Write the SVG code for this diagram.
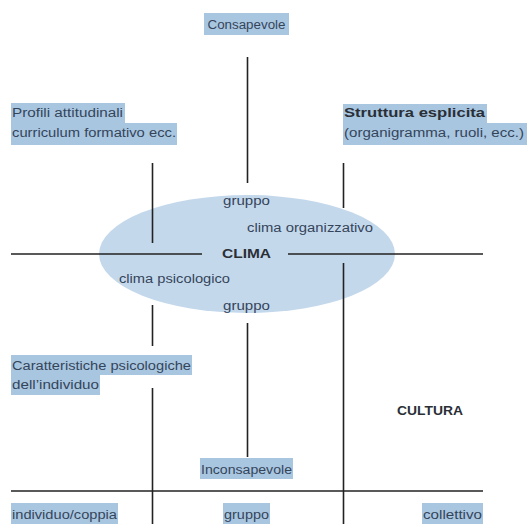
<svg xmlns="http://www.w3.org/2000/svg" width="527" height="524" viewBox="0 0 527 524">
<style>
.t{font-family:"Liberation Sans","DejaVu Sans",sans-serif;font-size:12.5px;fill:#34455a}
.b{font-weight:bold;fill:#2a2f36}
.hl{fill:#a9c6e1}
.ln{stroke:#222;stroke-width:1.6;fill:none}
</style>
<rect width="527" height="524" fill="#fff"/>
<g id="ellipse-clima">
<ellipse cx="247" cy="254" rx="148" ry="59" fill="#c4d8ec"/>
</g>
<g id="connectors">
<line class="ln" x1="247.5" y1="57" x2="247.5" y2="183"/>
<line class="ln" x1="247.5" y1="323" x2="247.5" y2="457"/>
<line class="ln" x1="152.5" y1="163" x2="152.5" y2="243"/>
<line class="ln" x1="152.5" y1="305" x2="152.5" y2="346"/>
<line class="ln" x1="152.5" y1="388" x2="152.5" y2="524"/>
<line class="ln" x1="343.5" y1="163" x2="343.5" y2="208"/>
<line class="ln" x1="343.5" y1="263" x2="343.5" y2="524"/>
<line class="ln" x1="11" y1="254" x2="202" y2="254"/>
<line class="ln" x1="288" y1="254" x2="483" y2="254"/>
<line class="ln" x1="11" y1="491" x2="483" y2="491" stroke-width="2"/>
</g>
<g id="consapevole">
<rect class="hl" x="204" y="13" width="85" height="22"/>
<text class="t" x="246.5" y="29" text-anchor="middle" textLength="78" lengthAdjust="spacingAndGlyphs">Consapevole</text>
</g>
<g id="profili">
<rect class="hl" x="11" y="103" width="114" height="20"/>
<rect class="hl" x="11" y="123" width="166" height="22"/>
<text class="t" x="12" y="117" textLength="111" lengthAdjust="spacingAndGlyphs">Profili attitudinali</text>
<text class="t" x="12" y="137" textLength="164" lengthAdjust="spacingAndGlyphs">curriculum formativo ecc.</text>
</g>
<g id="struttura">
<rect class="hl" x="343" y="104" width="144" height="19"/>
<rect class="hl" x="343" y="123" width="184" height="22"/>
<text class="t b" x="344" y="117" textLength="141" lengthAdjust="spacingAndGlyphs">Struttura esplicita</text>
<text class="t" x="344" y="137" textLength="180" lengthAdjust="spacingAndGlyphs">(organigramma, ruoli, ecc.)</text>
</g>
<g id="clima">
<text class="t" x="246.5" y="205" text-anchor="middle" textLength="47" lengthAdjust="spacingAndGlyphs">gruppo</text>
<text class="t" x="247" y="232" textLength="126" lengthAdjust="spacingAndGlyphs">clima organizzativo</text>
<text class="t b" x="246.5" y="258" text-anchor="middle" textLength="49" lengthAdjust="spacingAndGlyphs">CLIMA</text>
<text class="t" x="119" y="283" textLength="111" lengthAdjust="spacingAndGlyphs">clima psicologico</text>
<text class="t" x="246.5" y="310" text-anchor="middle" textLength="47" lengthAdjust="spacingAndGlyphs">gruppo</text>
</g>
<g id="caratteristiche">
<rect class="hl" x="11" y="355" width="181" height="20"/>
<rect class="hl" x="11" y="375" width="89" height="20"/>
<text class="t" x="12" y="370" textLength="179" lengthAdjust="spacingAndGlyphs">Caratteristiche psicologiche</text>
<text class="t" x="12" y="389" textLength="87" lengthAdjust="spacingAndGlyphs">dell’individuo</text>
</g>
<g id="cultura">
<text class="t b" x="430" y="415" text-anchor="middle" textLength="66" lengthAdjust="spacingAndGlyphs">CULTURA</text>
</g>
<g id="inconsapevole">
<rect class="hl" x="200" y="458" width="93" height="21"/>
<text class="t" x="246.5" y="474" text-anchor="middle" textLength="91" lengthAdjust="spacingAndGlyphs">Inconsapevole</text>
</g>
<g id="individuo-coppia">
<rect class="hl" x="11" y="503" width="107" height="21"/>
<text class="t" x="12" y="519" textLength="105" lengthAdjust="spacingAndGlyphs">individuo/coppia</text>
</g>
<g id="gruppo-bottom">
<rect class="hl" x="223" y="503" width="47" height="21"/>
<text class="t" x="246.5" y="519" text-anchor="middle" textLength="45" lengthAdjust="spacingAndGlyphs">gruppo</text>
</g>
<g id="collettivo">
<rect class="hl" x="422" y="503" width="61" height="21"/>
<text class="t" x="452.5" y="519" text-anchor="middle" textLength="59" lengthAdjust="spacingAndGlyphs">collettivo</text>
</g>
</svg>
